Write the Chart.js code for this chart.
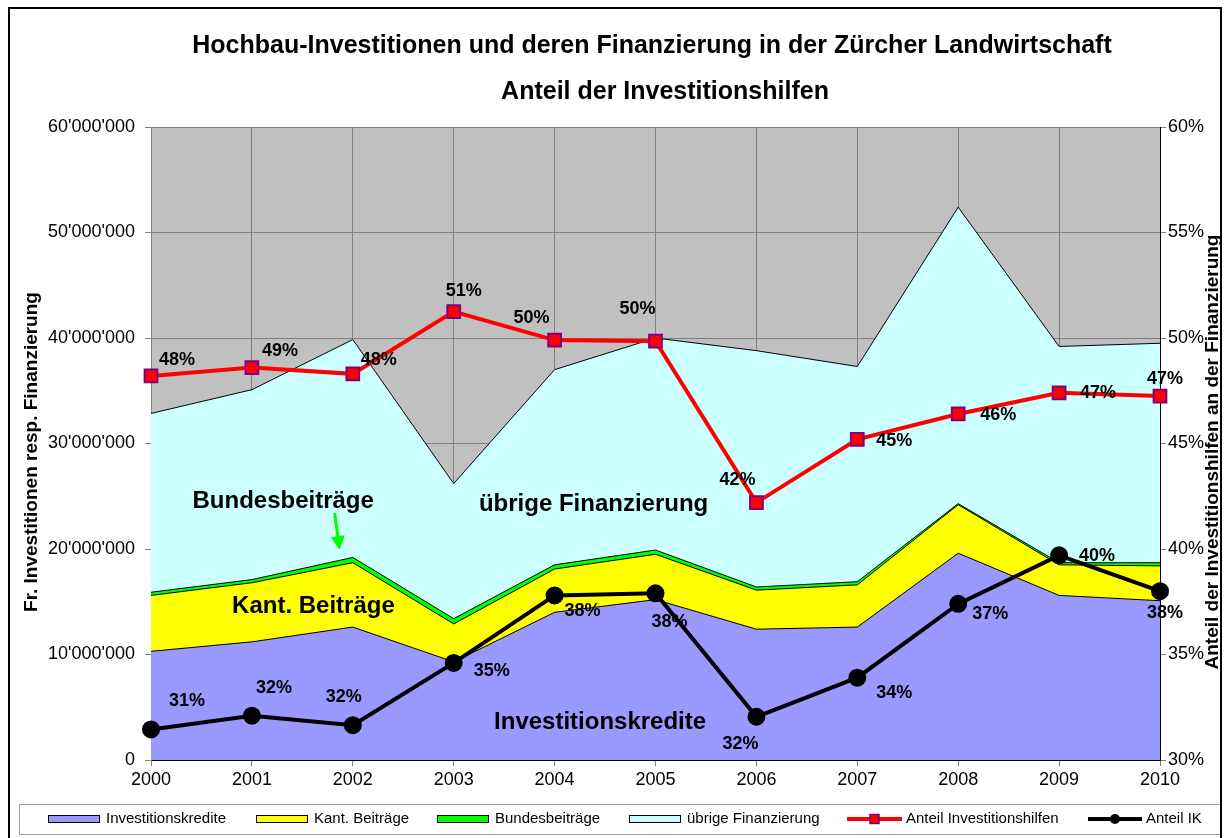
<!DOCTYPE html>
<html>
<head>
    <title>Hochbau-Investitionen Zürcher Landwirtschaft</title>
    <script src="https://cdn.jsdelivr.net/npm/chart.js"></script>
    <style>
        body { margin: 0; background: #fff; }
    </style>
</head>
<body>

<canvas id="myChart" width="1231" height="838"></canvas>

<script>
    // data (Fr. resp. %)
    const years = ['2000', '2001', '2002', '2003', '2004', '2005', '2006', '2007', '2008', '2009', '2010'];
    const investitionskredite = [10300000, 11200000, 12600000, 9300000, 14000000, 15200000, 12400000, 12600000, 19600000, 15600000, 15100000];
    const kantBeitraege = [5300000, 5600000, 6100000, 3600000, 4100000, 4300000, 3700000, 4000000, 4600000, 2900000, 3300000];
    const bundesBeitraege = [300000, 300000, 500000, 500000, 400000, 400000, 300000, 300000, 100000, 200000, 300000];
    const uebrigeFinanzierung = [16950000, 18000000, 20650000, 12800000, 18500000, 20100000, 22400000, 20400000, 28100000, 20500000, 20800000];
    const anteilHilfen = [48.2, 48.6, 48.3, 51.25, 49.9, 49.85, 42.2, 45.2, 46.4, 47.4, 47.25];
    const anteilIK = [31.45, 32.1, 31.65, 34.6, 37.8, 37.9, 32.05, 33.9, 37.4, 39.7, 38.0];
    const anteilHilfenLabels = ['48%', '49%', '48%', '51%', '50%', '50%', '42%', '45%', '46%', '47%', '47%'];
    const anteilIKLabels = ['31%', '32%', '32%', '35%', '38%', '38%', '32%', '34%', '37%', '40%', '38%'];

    const FONT = '"Liberation Sans", Arial, sans-serif';
    Chart.defaults.font.family = FONT;
    Chart.defaults.color = '#000';

    function fmtFr(v) {
        return String(v).replace(/\B(?=(\d{3})+(?!\d))/g, "'");
    }

    function text(ctx, str, x, y, font, align) {
        ctx.font = font;
        ctx.textAlign = align || 'center';
        ctx.textBaseline = 'middle';
        ctx.fillText(str, x, y);
    }

    // label offsets next to the points
    const hilfenOffsets = [[26, -16], [28, -17], [26, -14], [10, -21], [-23, -22], [-18, -32], [-19, -23], [37, 2], [40, 1], [39, 0], [5, -17]];
    const ikOffsets = [[36, -28], [22, -28], [-9, -28], [38, 8], [28, 16], [14, 29], [-16, 27], [37, 15], [32, 10], [38, 1], [5, 22]];

    const decor = {
        id: 'decor',
        beforeDraw(chart) {
            const ctx = chart.ctx, a = chart.chartArea;
            ctx.save();
            ctx.fillStyle = '#fff';
            ctx.fillRect(0, 0, chart.width, chart.height);
            ctx.fillStyle = '#C0C0C0';
            ctx.fillRect(a.left, a.top, a.right - a.left, a.bottom - a.top);
            ctx.restore();
        },
        afterDraw(chart) {
            const ctx = chart.ctx;
            const xs = chart.scales.x, ys = chart.scales.y;
            ctx.save();
            ctx.fillStyle = '#000';

            // title
            text(ctx, 'Hochbau-Investitionen und deren Finanzierung in der Zürcher Landwirtschaft', 652, 46, 'bold 25px ' + FONT);
            text(ctx, 'Anteil der Investitionshilfen', 665, 92, 'bold 25px ' + FONT);

            // axis titles
            ctx.save();
            ctx.translate(32, 452);
            ctx.rotate(-Math.PI / 2);
            text(ctx, 'Fr. Investitionen resp. Finanzierung', 0, 0, 'bold 19px ' + FONT);
            ctx.restore();
            ctx.save();
            ctx.translate(1213, 452);
            ctx.rotate(-Math.PI / 2);
            text(ctx, 'Anteil der Investitionshilfen an der Finanzierung', 0, 0, 'bold 19px ' + FONT);
            ctx.restore();

            // area annotations
            const big = 'bold 24px ' + FONT;
            text(ctx, 'Bundesbeiträge', xs.getPixelForValue(1.31), ys.getPixelForValue(24500000), big);
            text(ctx, 'Kant. Beiträge', xs.getPixelForValue(1.61), ys.getPixelForValue(14600000), big);
            text(ctx, 'übrige Finanzierung', xs.getPixelForValue(3.25), ys.getPixelForValue(24200000), big, 'left');
            text(ctx, 'Investitionskredite', xs.getPixelForValue(3.4), ys.getPixelForValue(3600000), big, 'left');

            // green arrow to Bundesbeiträge
            const x1 = xs.getPixelForValue(1.82), y1 = ys.getPixelForValue(23400000);
            const x2 = xs.getPixelForValue(1.87), y2 = ys.getPixelForValue(19900000);
            const ang = Math.atan2(y2 - y1, x2 - x1);
            ctx.strokeStyle = '#00FF00';
            ctx.fillStyle = '#00FF00';
            ctx.lineWidth = 3;
            ctx.beginPath();
            ctx.moveTo(x1, y1);
            ctx.lineTo(x2 - 12 * Math.cos(ang), y2 - 12 * Math.sin(ang));
            ctx.stroke();
            ctx.beginPath();
            ctx.moveTo(x2, y2);
            ctx.lineTo(x2 - 14 * Math.cos(ang) + 7 * Math.sin(ang), y2 - 14 * Math.sin(ang) - 7 * Math.cos(ang));
            ctx.lineTo(x2 - 14 * Math.cos(ang) - 7 * Math.sin(ang), y2 - 14 * Math.sin(ang) + 7 * Math.cos(ang));
            ctx.closePath();
            ctx.fill();

            // data labels
            ctx.fillStyle = '#000';
            const lbl = 'bold 18px ' + FONT;
            chart.getDatasetMeta(0).data.forEach((p, i) => {
                text(ctx, anteilHilfenLabels[i], p.x + hilfenOffsets[i][0], p.y + hilfenOffsets[i][1], lbl);
            });
            chart.getDatasetMeta(1).data.forEach((p, i) => {
                text(ctx, anteilIKLabels[i], p.x + ikOffsets[i][0], p.y + ikOffsets[i][1], lbl);
            });

            // legend
            ctx.fillStyle = '#fff';
            ctx.fillRect(19, 804, 1202, 30);
            ctx.strokeStyle = '#A0A0A0';
            ctx.lineWidth = 1;
            ctx.strokeRect(19.5, 804.5, 1202, 30);
            const ly = 819;
            const boxes = [
                [48, '#9999FF', 'Investitionskredite'],
                [256, '#FFFF00', 'Kant. Beiträge'],
                [437, '#00FF00', 'Bundesbeiträge'],
                [629, '#CCFFFF', 'übrige Finanzierung']
            ];
            boxes.forEach(b => {
                ctx.fillStyle = b[1];
                ctx.fillRect(b[0], ly - 4, 52, 8);
                ctx.strokeStyle = '#000';
                ctx.strokeRect(b[0] + 0.5, ly - 3.5, 51, 7);
                ctx.fillStyle = '#000';
                text(ctx, b[2], b[0] + 58, ly, '15px ' + FONT, 'left');
            });
            // red line entry
            ctx.strokeStyle = '#FF0000';
            ctx.lineWidth = 4;
            ctx.beginPath();
            ctx.moveTo(847, ly);
            ctx.lineTo(902, ly);
            ctx.stroke();
            ctx.fillStyle = '#FF0000';
            ctx.fillRect(870, ly - 4.5, 9, 9);
            ctx.strokeStyle = '#800080';
            ctx.lineWidth = 1.5;
            ctx.strokeRect(870, ly - 4.5, 9, 9);
            ctx.fillStyle = '#000';
            text(ctx, 'Anteil Investitionshilfen', 906, ly, '15px ' + FONT, 'left');
            // black line entry
            ctx.strokeStyle = '#000';
            ctx.lineWidth = 4;
            ctx.beginPath();
            ctx.moveTo(1088, ly);
            ctx.lineTo(1142, ly);
            ctx.stroke();
            ctx.beginPath();
            ctx.arc(1115, ly, 5, 0, Math.PI * 2);
            ctx.fill();
            text(ctx, 'Anteil IK', 1146, ly, '15px ' + FONT, 'left');

            // outer frame
            ctx.strokeStyle = '#000';
            ctx.lineWidth = 2;
            ctx.strokeRect(9, 8, 1212, 845);
            ctx.restore();
        }
    };

    const areaStyle = {
        borderColor: '#000',
        borderWidth: 1,
        pointRadius: 0,
        tension: 0,
        yAxisID: 'y',
        order: 1
    };

    const ctx = document.getElementById('myChart').getContext('2d');
    const chart = new Chart(ctx, {
        type: 'line',
        data: {
            labels: years,
            datasets: [
                {
                    label: 'Anteil Investitionshilfen',
                    data: anteilHilfen,
                    yAxisID: 'y1',
                    borderColor: '#FF0000',
                    borderWidth: 4,
                    pointStyle: 'rect',
                    pointRadius: 9,
                    pointBackgroundColor: '#FF0000',
                    pointBorderColor: '#800080',
                    pointBorderWidth: 2,
                    fill: false,
                    order: 0
                },
                {
                    label: 'Anteil IK',
                    data: anteilIK,
                    yAxisID: 'y1',
                    borderColor: '#000',
                    borderWidth: 4,
                    pointStyle: 'circle',
                    pointRadius: 7,
                    pointBackgroundColor: '#000',
                    pointBorderColor: '#000',
                    fill: false,
                    order: 0
                },
                Object.assign({ label: 'Investitionskredite', data: investitionskredite, backgroundColor: '#9999FF', fill: 'origin' }, areaStyle),
                Object.assign({ label: 'Kant. Beiträge', data: kantBeitraege, backgroundColor: '#FFFF00', fill: '-1' }, areaStyle),
                Object.assign({ label: 'Bundesbeiträge', data: bundesBeitraege, backgroundColor: '#00FF00', fill: '-1' }, areaStyle),
                Object.assign({ label: 'übrige Finanzierung', data: uebrigeFinanzierung, backgroundColor: '#CCFFFF', fill: '-1' }, areaStyle)
            ]
        },
        options: {
            responsive: false,
            animation: false,
            layout: { padding: { top: 127, left: 0, right: 0, bottom: 0 } },
            plugins: {
                legend: { display: false },
                tooltip: { enabled: false }
            },
            scales: {
                x: {
                    offset: false,
                    grid: { color: '#808080', tickLength: 6, offset: false },
                    border: { color: '#000', width: 1 },
                    ticks: { font: { size: 18 }, padding: 3, maxRotation: 0, autoSkip: false },
                    afterFit: s => { s.height = 78; }
                },
                y: {
                    position: 'left',
                    stacked: true,
                    min: 0,
                    max: 60000000,
                    grid: { color: '#808080', tickLength: 6 },
                    border: { color: '#808080', width: 1 },
                    ticks: { stepSize: 10000000, font: { size: 18 }, padding: 10, callback: v => fmtFr(v) },
                    afterFit: s => { s.width = 151; }
                },
                y1: {
                    position: 'right',
                    min: 30,
                    max: 60,
                    grid: { drawOnChartArea: false, color: '#808080', tickLength: 6 },
                    border: { color: '#000', width: 1 },
                    ticks: { stepSize: 5, font: { size: 18 }, padding: 2, callback: v => v + '%' },
                    afterFit: s => { s.width = 71; }
                }
            }
        },
        plugins: [decor]
    });
</script>

</body>
</html>
